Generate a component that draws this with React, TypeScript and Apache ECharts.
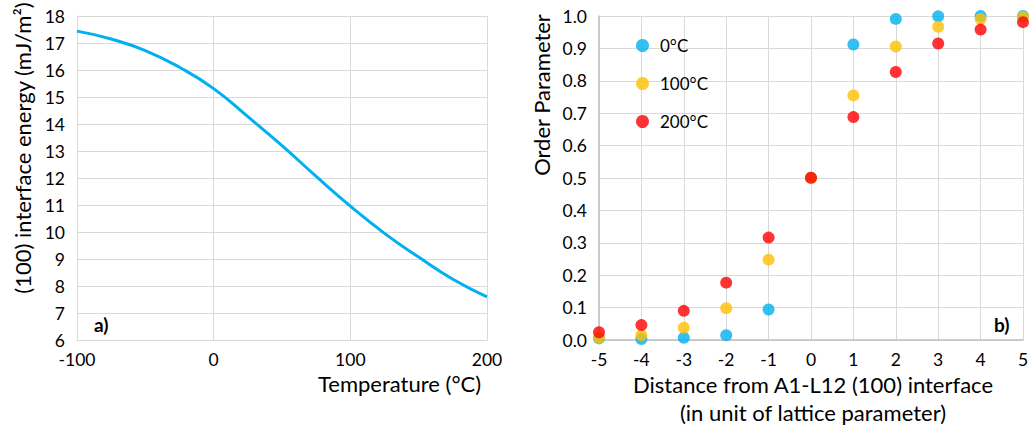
import React, { useEffect, useRef } from "react";
import * as echarts from "echarts";

const temps = [-100, -75, -50, -25, 0, 25, 50, 75, 100, 125, 150, 175, 200];
const energy = [17.44, 17.15, 16.72, 16.1, 15.31, 14.27, 13.2, 12.06, 10.96, 9.95, 9.07, 8.25, 7.6];

const distances = [-5, -4, -3, -2, -1, 0, 1, 2, 3, 4, 5];
const order0 = [0.005, 0.003, 0.007, 0.015, 0.094, 0.5, 0.912, 0.991, 0.999, 1.0, 1.0];
const order100 = [0.007, 0.015, 0.038, 0.098, 0.248, 0.5, 0.755, 0.906, 0.967, 0.991, 0.998];
const order200 = [0.024, 0.046, 0.09, 0.177, 0.316, 0.501, 0.688, 0.827, 0.915, 0.958, 0.981];
const seriesNames = ["0°C", "100°C", "200°C"];

const FONT = "Lato, 'Open Sans', sans-serif";
const GRID = "#d9d9d9";
const TITLE = 22;

export default function App() {
  const ref = useRef<HTMLDivElement>(null);
  useEffect(() => {
    if (!ref.current) return;
    const chart = echarts.init(ref.current, undefined, { renderer: "svg" });
    const pair = (xs: number[], ys: number[]) => xs.map((x, i) => [x, ys[i]]);
    const axisText = { color: "#000", fontSize: 17.5, lineHeight: 16, fontFamily: FONT };
    chart.setOption({
      animation: false,
      textStyle: { fontFamily: FONT },
      grid: [
        { left: 77, right: 546, top: 16, bottom: 85 },
        { left: 599, right: 10, top: 16, bottom: 85 },
      ],
      xAxis: [
        {
          gridIndex: 0, type: "value", min: -100, max: 200, interval: 100,
          axisLine: { onZero: false, lineStyle: { color: GRID } }, axisTick: { show: false },
          splitLine: { lineStyle: { color: GRID } },
          axisLabel: { ...axisText, margin: 11 },
        },
        {
          gridIndex: 1, type: "value", min: -5, max: 5, interval: 1,
          axisLine: { onZero: false, lineStyle: { color: "#bfbfbf", width: 1.5 } }, axisTick: { show: false },
          splitLine: { lineStyle: { color: GRID } },
          axisLabel: { ...axisText, margin: 11 },
        },
      ],
      yAxis: [
        {
          gridIndex: 0, type: "value", min: 6, max: 18, interval: 1,
          axisLine: { show: true, onZero: false, lineStyle: { color: GRID } }, axisTick: { show: false },
          splitLine: { lineStyle: { color: GRID } },
          axisLabel: { ...axisText, margin: 12 },
        },
        {
          gridIndex: 1, type: "value", min: 0, max: 1, interval: 0.1,
          axisLine: { show: true, onZero: false, lineStyle: { color: "#bfbfbf", width: 1.5 } }, axisTick: { show: false },
          splitLine: { lineStyle: { color: GRID } },
          axisLabel: { ...axisText, margin: 12, formatter: (v: number) => v.toFixed(1) },
        },
      ],
      legend: {
        data: seriesNames,
        orient: "vertical",
        left: 631,
        top: 32,
        itemGap: 21,
        itemWidth: 13,
        itemHeight: 13,
        icon: "circle",
        textStyle: { fontSize: 17, color: "#000", fontFamily: FONT, padding: [0, 0, 0, 6] },
      },
      graphic: [
        { type: "text", left: 318, top: 372, style: { text: "Temperature (°C)", fontSize: TITLE, fontFamily: FONT, fill: "#000" } },
        { type: "text", x: 22, y: 148, rotation: Math.PI / 2, style: { text: "(100) interface energy (mJ/m²)", fontSize: TITLE, fontFamily: FONT, fill: "#000", align: "center", verticalAlign: "middle" } },
        { type: "text", x: 541, y: 95, rotation: Math.PI / 2, style: { text: "Order Parameter", fontSize: TITLE, fontFamily: FONT, fill: "#000", align: "center", verticalAlign: "middle" } },
        { type: "text", x: 813, y: 384, style: { text: "Distance from A1-L12 (100) interface", fontSize: TITLE, fontFamily: FONT, fill: "#000", align: "center", verticalAlign: "middle" } },
        { type: "text", x: 813, y: 412, style: { text: "(in unit of lattice parameter)", fontSize: TITLE, fontFamily: FONT, fill: "#000", align: "center", verticalAlign: "middle" } },
        { type: "text", x: 94, y: 324, style: { text: "a)", fontSize: 19, fontWeight: "bold", fontFamily: FONT, fill: "#000", verticalAlign: "middle" } },
        { type: "text", x: 994, y: 324, style: { text: "b)", fontSize: 19, fontWeight: "bold", fontFamily: FONT, fill: "#000", verticalAlign: "middle" } },
      ],
      series: [
        {
          type: "line", xAxisIndex: 0, yAxisIndex: 0, data: pair(temps, energy),
          smooth: 0.5, showSymbol: false,
          lineStyle: { color: "#00b0f0", width: 3 },
        },
        {
          name: seriesNames[0], type: "scatter", xAxisIndex: 1, yAxisIndex: 1, data: pair(distances, order0),
          symbolSize: 12, itemStyle: { color: "#00b0f0" }, clip: false,
        },
        {
          name: seriesNames[1], type: "scatter", xAxisIndex: 1, yAxisIndex: 1, data: pair(distances, order100),
          symbolSize: 12, itemStyle: { color: "#ffc000" }, clip: false,
        },
        {
          name: seriesNames[2], type: "scatter", xAxisIndex: 1, yAxisIndex: 1, data: pair(distances, order200),
          symbolSize: 12, itemStyle: { color: "#ff0000" }, clip: false,
        },
      ],
    });
    return () => chart.dispose();
  }, []);
  return <div ref={ref} style={{ width: 1033, height: 425, position: "absolute", left: 0, top: 0 }} />;
}
